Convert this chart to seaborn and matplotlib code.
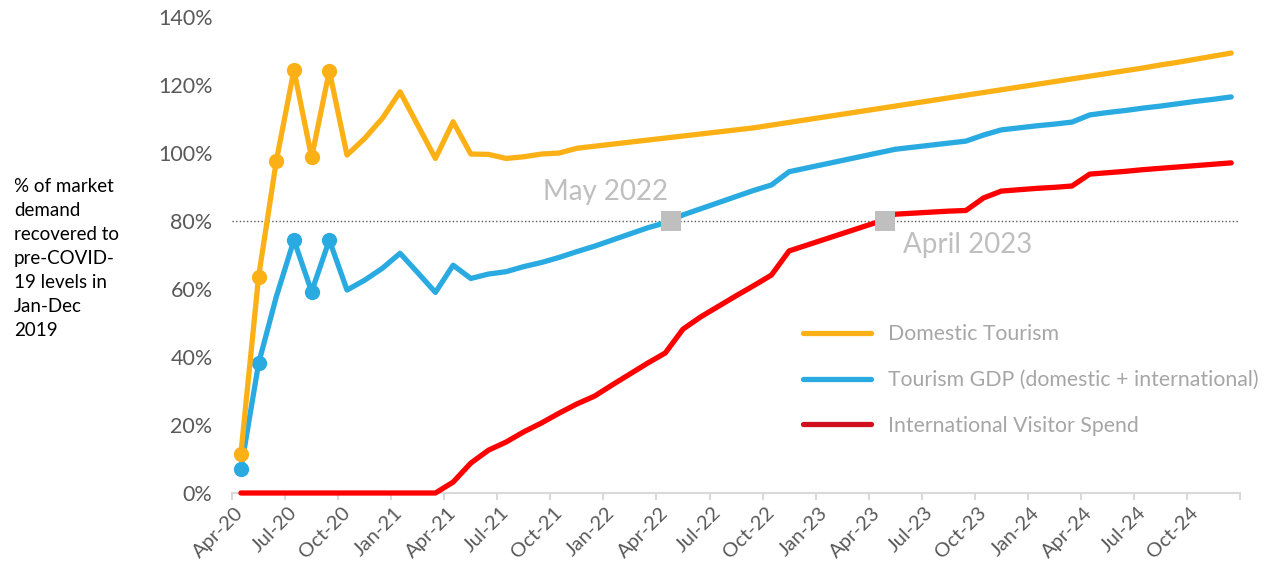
import numpy as np
import pandas as pd
import seaborn as sns
import matplotlib.pyplot as plt
import matplotlib.transforms as mtransforms
from matplotlib.lines import Line2D
from matplotlib.ticker import FixedLocator, FuncFormatter

sns.set_style("white")
plt.rcParams['font.family'] = ['Lato', 'DejaVu Sans']

# -----------------------------------------------------------------------------
# Data (% of 2019 demand, monthly Apr-20 .. Dec-24)
# -----------------------------------------------------------------------------
months = pd.date_range("2020-04-01", "2024-12-01", freq="MS").strftime("%b-%y").tolist()

domestic = [11.5, 63.6, 97.6, 124.4, 98.7, 124.2, 99.4, 104.3, 110.2, 118.0,
            108.2, 98.4, 109.2, 99.7, 99.6, 98.4, 98.9, 99.7, 100.0, 101.4,
            102.0, 102.6, 103.2, 103.8, 104.4, 105.0, 105.6, 106.2, 106.8, 107.4,
            108.2, 109.0, 109.8, 110.6, 111.4, 112.2, 113.0, 113.8, 114.6, 115.4,
            116.2, 117.0, 117.8, 118.6, 119.4, 120.2, 121.0, 121.8, 122.6, 123.4,
            124.2, 125.0, 125.9, 126.7, 127.6, 128.5, 129.4]

tourism_gdp = [7.0, 38.1, 57.7, 74.4, 59.2, 74.4, 59.7, 62.6, 66.1, 70.5,
               64.8, 59.0, 67.0, 63.1, 64.4, 65.1, 66.6, 67.8, 69.3, 71.0,
               72.6, 74.4, 76.2, 78.0, 79.5, 81.8, 83.6, 85.4, 87.2, 89.0,
               90.6, 94.5, 95.6, 96.7, 97.8, 98.9, 100.0, 101.1, 101.7, 102.3,
               102.9, 103.5, 105.3, 106.8, 107.4, 108.0, 108.5, 109.1, 111.2, 111.9,
               112.5, 113.2, 113.8, 114.5, 115.2, 115.8, 116.5]

international = [0, 0, 0, 0, 0, 0, 0, 0, 0, 0,
                 0, 0, 3.2, 8.8, 12.6, 15.0, 18.0, 20.6, 23.5, 26.2,
                 28.5, 31.8, 35.0, 38.2, 41.2, 48.2, 51.8, 54.9, 58.0, 61.0,
                 64.1, 71.2, 72.9, 74.6, 76.3, 78.0, 79.7, 82.0, 82.3, 82.6,
                 82.9, 83.1, 86.8, 88.8, 89.2, 89.6, 89.9, 90.3, 93.8, 94.2,
                 94.6, 95.1, 95.5, 95.9, 96.3, 96.7, 97.1]

series_names = ["Domestic Tourism", "Tourism GDP (domestic + international)",
                "International Visitor Spend"]

# months marked with dots at the start of each line
domestic_dots = [0, 1, 2, 3, 4, 5]
gdp_dots = [0, 1, 3, 4, 5]

# 80% recovery milestones (fractional month position)
milestone_labels = ["May 2022", "April 2023"]
milestone_pos = [24.3, 36.4]
milestone_level = 80

df = pd.DataFrame({"idx": np.arange(len(months)), "month": months,
                   "domestic": domestic, "gdp": tourism_gdp,
                   "intl": international})

# -----------------------------------------------------------------------------
# Plot
# -----------------------------------------------------------------------------
YELLOW = "#FBB116"
BLUE = "#29ABE2"
RED = "#FF0000"
GREY_TXT = "#595959"
AXIS_GREY = "#D9D9D9"

fig = plt.figure(figsize=(12.66, 5.71), dpi=100)
ax = fig.add_axes([0.1833, 0.1366, 0.7962, 0.8336])

ax.axhline(milestone_level, color="#595959", lw=1, ls=(0, (1, 1.6)), zorder=1)

sns.lineplot(data=df, x="idx", y="intl", color=RED, lw=3.8, ax=ax,
             clip_on=False, zorder=3)
sns.lineplot(data=df, x="idx", y="gdp", color=BLUE, lw=3.8, ax=ax,
             marker="o", markersize=11, markeredgewidth=0,
             markevery=gdp_dots, clip_on=False, zorder=4)
sns.lineplot(data=df, x="idx", y="domestic", color=YELLOW, lw=3.8, ax=ax,
             marker="o", markersize=11, markeredgewidth=0,
             markevery=domestic_dots, clip_on=False, zorder=5)

ax.plot(milestone_pos, [milestone_level] * 2, ls="none", marker="s",
        markersize=15, color="#BFBFBF", markeredgewidth=0, zorder=6)

ax.annotate(milestone_labels[0], (milestone_pos[0], milestone_level),
            xytext=(-65, 29), textcoords="offset pixels", ha="center",
            va="center", fontsize=20, color="#BFBFBF")
ax.annotate(milestone_labels[1], (milestone_pos[1], milestone_level),
            xytext=(83, -24), textcoords="offset pixels", ha="center",
            va="center", fontsize=20, color="#BFBFBF")

# axes styling
ax.set_xlim(-0.5, len(months) - 0.5)
ax.set_ylim(0, 140)
ax.set_xlabel("")
ax.set_ylabel("")
ax.set_yticks(np.arange(0, 141, 20))
ax.yaxis.set_major_formatter(FuncFormatter(lambda v, p: f"{v:.0f}%"))
ax.set_xticks(df["idx"][::3])
ax.set_xticklabels(df["month"][::3], rotation=45, ha="right",
                   rotation_mode="anchor")
ax.xaxis.set_minor_locator(FixedLocator(np.arange(-0.5, len(months), 3)))
ax.tick_params(axis="x", which="major", length=0, pad=8, labelsize=14.5,
               labelcolor=GREY_TXT)
ax.tick_params(axis="x", which="minor", length=5, width=1.5, color=AXIS_GREY,
               direction="out", bottom=True)
ax.tick_params(axis="y", length=0, pad=14, labelsize=15.5, labelcolor=GREY_TXT)
# nudge the rotated month labels a little to the left
shift = mtransforms.ScaledTranslation(-6 / 100, 0, fig.dpi_scale_trans)
for lab in ax.get_xticklabels():
    lab.set_transform(lab.get_transform() + shift)
for s in ["top", "right", "left"]:
    ax.spines[s].set_visible(False)
ax.spines["bottom"].set_color(AXIS_GREY)
ax.spines["bottom"].set_linewidth(1.5)

# legend
handles = [Line2D([], [], color=YELLOW, lw=3.8),
           Line2D([], [], color=BLUE, lw=3.8),
           Line2D([], [], color="#D0101E", lw=3.8)]
fig.legend(handles, series_names, loc="center left",
           bbox_to_anchor=(803 / 1266, 1 - 380 / 571), frameon=False,
           fontsize=15.3, labelcolor="#A6A6A6", handlelength=3.2,
           handletextpad=0.8, labelspacing=1.2, borderpad=0,
           borderaxespad=0)

# y axis description
fig.text(14 / 1266, 1 - 178 / 571,
         "% of market\ndemand\nrecovered to\npre-COVID-\n19 levels in\nJan-Dec\n2019",
         ha="left", va="top", fontsize=13.5, color="black", linespacing=1.5)

fig.savefig("out.png", dpi=100)
